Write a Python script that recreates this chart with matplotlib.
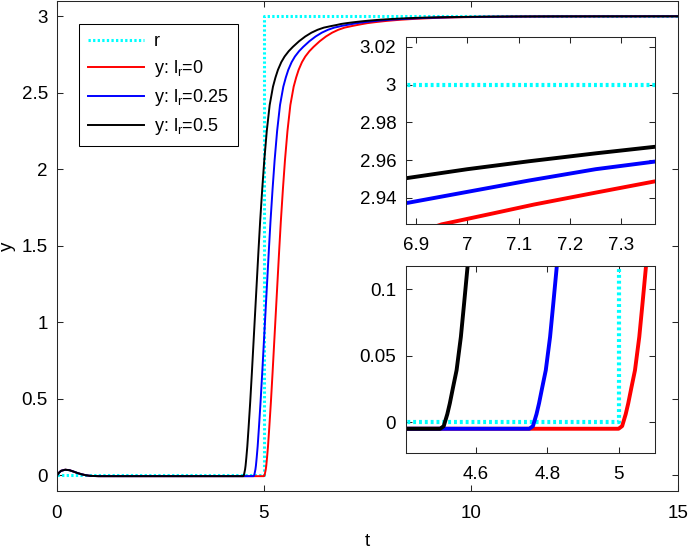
import matplotlib
matplotlib.use("Agg")
import matplotlib.pyplot as plt
from matplotlib.ticker import FuncFormatter

plt.rcParams["font.family"] = ["Liberation Sans", "DejaVu Sans"]

# reference signal r
r_t = [0.0, 5.0, 5.0, 15.0]
r_y = [0.0, 0.0, 3.0, 3.0]

# response y with l_r = 0
red_t = [0.00, 0.05, 0.10, 0.20, 0.30, 0.40, 0.50, 0.60, 0.70, 0.80, 1.00,
         5.000, 5.010, 5.020, 5.027, 5.036, 5.046, 5.058, 5.067, 5.077,
         5.10, 5.13, 5.17, 5.21, 5.25, 5.29, 5.33, 5.37, 5.41, 5.46, 5.51,
         5.57, 5.64, 5.72, 5.78, 5.84, 5.92, 6.00, 6.10, 6.20, 6.35, 6.50,
         6.65, 6.80, 6.95, 7.05, 7.13, 7.25, 7.37, 7.50, 7.62, 7.75, 7.87,
         8.00, 8.30, 8.70, 9.20, 9.80, 10.5, 11.5, 12.5, 15.0]
red_y = [0.000, 0.018, 0.030, 0.037, 0.034, 0.025, 0.015, 0.007, 0.001, -0.003, -0.005,
         -0.005, -0.003, 0.006, 0.014, 0.026, 0.039, 0.064, 0.089, 0.1175,
         0.19, 0.31, 0.48, 0.67, 0.87, 1.07, 1.27, 1.47, 1.66, 1.87, 2.06,
         2.25, 2.42, 2.54, 2.60, 2.65, 2.70, 2.737, 2.772, 2.80, 2.837, 2.868,
         2.893, 2.912, 2.926, 2.9318, 2.9365, 2.9428, 2.9490, 2.9552, 2.9594, 2.9636, 2.9672,
         2.9707, 2.9775, 2.984, 2.990, 2.994, 2.9967, 2.9986, 2.9994, 3.000]

# response y with l_r = 0.25
blue_t = [0.00, 0.05, 0.10, 0.20, 0.30, 0.40, 0.50, 0.60, 0.70, 0.80, 1.00,
          4.750, 4.760, 4.770, 4.777, 4.786, 4.796, 4.808, 4.817, 4.827,
          4.85, 4.88, 4.92, 4.96, 5.00, 5.04, 5.08, 5.12, 5.16, 5.21, 5.26,
          5.32, 5.39, 5.47, 5.53, 5.59, 5.67, 5.75, 5.85, 5.95, 6.10, 6.25,
          6.40, 6.55, 6.70, 6.80, 6.88, 7.00, 7.12, 7.25, 7.37, 7.50, 7.62,
          7.75, 8.05, 8.45, 8.95, 9.55, 10.25, 11.25, 12.25, 15.0]
blue_y = [0.000, 0.018, 0.030, 0.037, 0.034, 0.025, 0.015, 0.007, 0.001, -0.003, -0.005,
          -0.005, -0.003, 0.006, 0.014, 0.026, 0.039, 0.064, 0.089, 0.1175,
          0.19, 0.31, 0.48, 0.67, 0.87, 1.07, 1.27, 1.47, 1.66, 1.87, 2.06,
          2.25, 2.42, 2.54, 2.60, 2.65, 2.70, 2.737, 2.772, 2.80, 2.837, 2.868,
          2.893, 2.912, 2.926, 2.9318, 2.9372, 2.9432, 2.9492, 2.9552, 2.9594, 2.9636, 2.9672,
          2.9707, 2.9775, 2.984, 2.990, 2.994, 2.9967, 2.9986, 2.9994, 3.000]

# response y with l_r = 0.5
black_t = [0.00, 0.05, 0.10, 0.20, 0.30, 0.40, 0.50, 0.60, 0.70, 0.80, 1.00,
           4.500, 4.510, 4.520, 4.527, 4.536, 4.546, 4.558, 4.567, 4.577,
           4.60, 4.63, 4.67, 4.71, 4.75, 4.79, 4.83, 4.87, 4.91, 4.96, 5.01,
           5.07, 5.14, 5.22, 5.28, 5.34, 5.42, 5.50, 5.60, 5.70, 5.85, 6.00,
           6.15, 6.30, 6.45, 6.55, 6.63, 6.75, 6.87, 7.00, 7.12, 7.25, 7.37,
           7.50, 7.80, 8.20, 8.70, 9.30, 10.0, 11.0, 12.0, 15.0]
black_y = [0.000, 0.018, 0.030, 0.037, 0.034, 0.025, 0.015, 0.007, 0.001, -0.003, -0.005,
           -0.005, -0.003, 0.006, 0.014, 0.026, 0.039, 0.064, 0.089, 0.1175,
           0.19, 0.31, 0.48, 0.67, 0.87, 1.07, 1.27, 1.47, 1.66, 1.87, 2.06,
           2.25, 2.42, 2.54, 2.60, 2.65, 2.70, 2.737, 2.772, 2.80, 2.837, 2.868,
           2.893, 2.912, 2.926, 2.9318, 2.9365, 2.9428, 2.9500, 2.9552, 2.9594, 2.9636, 2.9672,
           2.9707, 2.9775, 2.984, 2.990, 2.994, 2.9967, 2.9986, 2.9994, 3.000]

labels = ["r", "y: l$_{\\mathregular{r}}$=0", "y: l$_{\\mathregular{r}}$=0.25",
          "y: l$_{\\mathregular{r}}$=0.5"]

main_xticks = [0, 5, 10, 15]
main_yticks = [0, 0.5, 1, 1.5, 2, 2.5, 3]
top_xticks = [6.9, 7.0, 7.1, 7.2, 7.3]
top_yticks = [2.94, 2.96, 2.98, 3.0, 3.02]
bot_xticks = [4.6, 4.8, 5.0]
bot_yticks = [0, 0.05, 0.1]

axcol = "#262626"
fmt = FuncFormatter(lambda v, p: f"{v:g}")


def style(ax, xpad, ypad):
    for s in ax.spines.values():
        s.set_color(axcol)
        s.set_linewidth(0.75)
    ax.tick_params(direction="in", top=True, right=True, length=4.5, width=0.75,
                   colors=axcol, labelsize=13.5, labelcolor="black")
    ax.tick_params(axis="x", pad=xpad)
    ax.tick_params(axis="y", pad=ypad)
    ax.xaxis.set_major_formatter(fmt)
    ax.yaxis.set_major_formatter(fmt)


def draw(ax, lw, rlw, dot):
    ax.plot(r_t, r_y, color="cyan", lw=rlw, linestyle=(0, dot))
    ax.plot(red_t, red_y, color="red", lw=lw)
    ax.plot(blue_t, blue_y, color="blue", lw=lw)
    ax.plot(black_t, black_y, color="black", lw=lw)


fig = plt.figure(figsize=(6.88, 5.49), dpi=100)

ax = fig.add_axes([0.0828, 0.1062, 0.9022, 0.892])
draw(ax, 1.4, 2.2, (0.75, 0.75))
ax.set_xlim(0, 15)
ax.set_ylim(-0.1, 3.1)
ax.set_xticks(main_xticks)
ax.set_yticks(main_yticks)
style(ax, 10, 6.5)
ax.set_xlabel("t", fontsize=13.5, labelpad=8)
ax.set_ylabel("y", fontsize=13.5, labelpad=4)
leg = ax.legend(ax.get_lines(), labels, loc="upper left",
                bbox_to_anchor=(0.0354, 0.953), borderaxespad=0, fontsize=13,
                fancybox=False, edgecolor="black", framealpha=1,
                handlelength=3.1, handletextpad=0.55, labelspacing=0.45,
                borderpad=0.5)
leg.get_frame().set_linewidth(0.75)

ax1 = fig.add_axes([0.590, 0.592, 0.362, 0.341])
draw(ax1, 2.8, 3.0, (0.7, 0.7))
ax1.set_xlim(6.8805, 7.3656)
ax1.set_ylim(2.9262, 3.0253)
ax1.set_xticks(top_xticks)
ax1.set_yticks(top_yticks)
style(ax1, 9.5, 7)

ax2 = fig.add_axes([0.590, 0.1754, 0.362, 0.3406])
draw(ax2, 2.8, 3.0, (0.7, 0.7))
ax2.set_xlim(4.404, 5.102)
ax2.set_ylim(-0.023, 0.1175)
ax2.set_xticks(bot_xticks)
ax2.set_yticks(bot_yticks)
style(ax2, 9.5, 7)

fig.savefig("out.png", dpi=100)
